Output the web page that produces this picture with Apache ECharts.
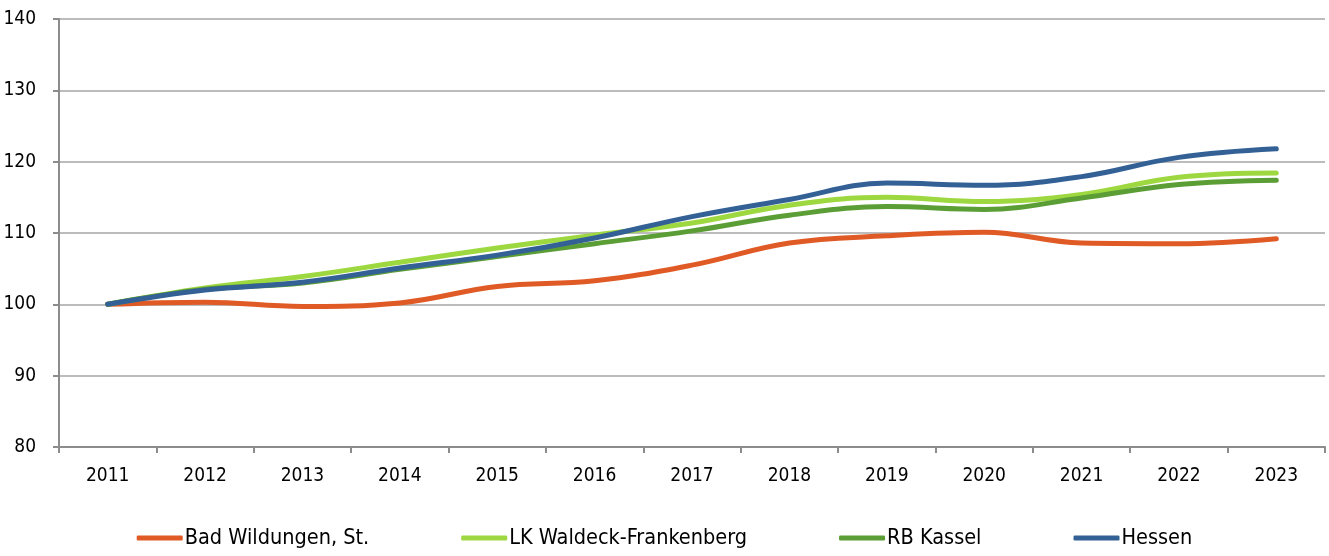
<!DOCTYPE html>
<html><head><meta charset="utf-8">
<script src="https://cdn.jsdelivr.net/npm/echarts@6/dist/echarts.min.js"></script>
<style>html,body{margin:0;padding:0;background:#fff}#c{width:1329px;height:556px}</style>
</head><body><div id="c"></div>
<script>
const categories = ['2011','2012','2013','2014','2015','2016','2017','2018','2019','2020','2021','2022','2023'];
const badWildungen = [100, 100.3, 99.7, 100.2, 102.5, 103.3, 105.5, 108.6, 109.6, 110.1, 108.6, 108.5, 109.2];
const lkWaldeck = [100, 102.3, 103.9, 105.9, 107.9, 109.7, 111.4, 113.9, 115.0, 114.4, 115.4, 117.8, 118.4];
const rbKassel = [100, 102.1, 103.0, 104.9, 106.7, 108.5, 110.3, 112.5, 113.7, 113.3, 114.9, 116.8, 117.4];
const hessen = [100, 102.0, 103.1, 105.1, 106.9, 109.3, 112.3, 114.7, 117.0, 116.7, 117.9, 120.6, 121.8];
const names = ['Bad Wildungen, St.', 'LK Waldeck-Frankenberg', 'RB Kassel', 'Hessen'];
const colors = ['#E05A26', '#9DD840', '#5C9E36', '#336196'];
const seriesData = [badWildungen, lkWaldeck, rbKassel, hessen];
const FONT = '"Liberation Sans Narrow", "DejaVu Sans Condensed", "Arial Narrow", sans-serif';

const chart = echarts.init(document.getElementById('c'));
chart.setOption({
  animation: false,
  textStyle: {fontFamily: FONT},
  grid: {left: 59, right: 4, top: 19, bottom: 109},
  legend: {
    top: 527, left: 'center', padding: 0, itemGap: 92, itemWidth: 46, itemHeight: 5,
    icon: 'roundRect',
    textStyle: {fontSize: 21.5, color: '#000', fontFamily: FONT, padding: [0,0,0,-3]},
    data: names
  },
  xAxis: {
    type: 'category', data: categories, boundaryGap: true,
    axisLine: {lineStyle: {color: '#8c8c8c', width: 2}},
    axisTick: {show: true, length: 6, lineStyle: {color: '#8c8c8c', width: 2}},
    axisLabel: {fontSize: 19, color: '#000', margin: 20, fontFamily: FONT}
  },
  yAxis: {
    type: 'value', min: 80, max: 140, interval: 10,
    axisLine: {show: true, lineStyle: {color: '#8c8c8c', width: 2}},
    axisTick: {show: true, length: 6, lineStyle: {color: '#8c8c8c', width: 2}},
    axisLabel: {fontSize: 19, color: '#000', margin: 23, fontFamily: FONT},
    splitLine: {lineStyle: {color: '#a6a6a6', width: 1.5}}
  },
  series: seriesData.map((d, i) => ({
    name: names[i], type: 'line', data: d, smooth: 0.4,
    showSymbol: false, symbol: 'none',
    lineStyle: {width: 5, color: colors[i], cap: 'round'},
    itemStyle: {color: colors[i]}
  }))
});
</script></body></html>
